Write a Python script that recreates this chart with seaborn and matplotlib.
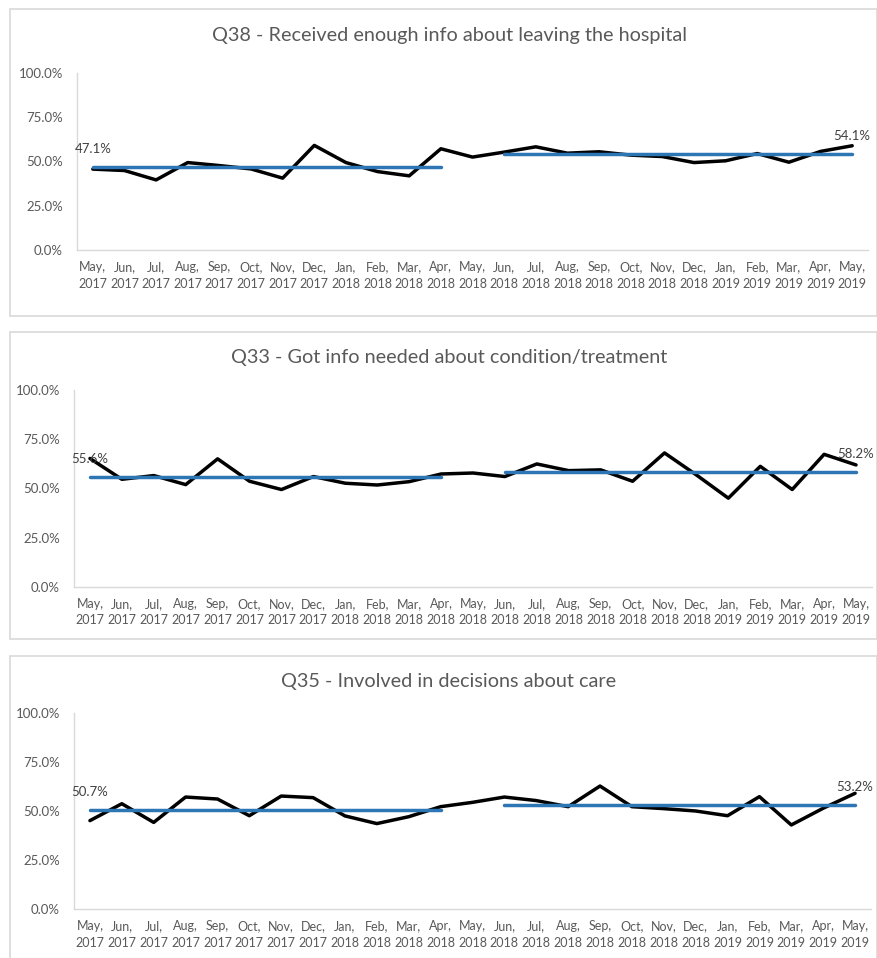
import pandas as pd
import matplotlib.pyplot as plt
import seaborn as sns
from matplotlib.patches import Rectangle
from matplotlib.ticker import FuncFormatter

sns.set_style('white')
plt.rcParams['font.family'] = ['Lato', 'DejaVu Sans']

# months on x-axis
months = ['May, 2017', 'Jun, 2017', 'Jul, 2017', 'Aug, 2017', 'Sep, 2017', 'Oct, 2017',
          'Nov, 2017', 'Dec, 2017', 'Jan, 2018', 'Feb, 2018', 'Mar, 2018', 'Apr, 2018',
          'May, 2018', 'Jun, 2018', 'Jul, 2018', 'Aug, 2018', 'Sep, 2018', 'Oct, 2018',
          'Nov, 2018', 'Dec, 2018', 'Jan, 2019', 'Feb, 2019', 'Mar, 2019', 'Apr, 2019',
          'May, 2019']

# monthly scores (%)
q38 = [45.7, 44.9, 39.6, 49.4, 47.7, 45.8, 40.6, 59.1, 49.4, 44.3, 41.9, 57.2,
       52.5, 55.3, 58.3, 54.7, 55.5, 53.6, 52.8, 49.4, 50.4, 54.5, 49.6, 55.7, 58.9]
q33 = [65.2, 54.6, 56.5, 51.9, 65.0, 53.6, 49.4, 56.0, 52.6, 51.7, 53.4, 57.3,
       57.8, 56.0, 62.4, 59.0, 59.4, 53.6, 68.0, 56.8, 45.0, 61.2, 49.4, 67.3, 61.9]
q35 = [45.1, 53.7, 44.2, 57.1, 56.1, 47.6, 57.6, 56.8, 47.5, 43.6, 47.1, 52.2,
       54.4, 57.1, 55.3, 52.2, 62.7, 52.2, 51.2, 50.0, 47.6, 57.3, 42.9, 51.4, 59.0]

# mean lines: (first month, last month, value)
q38_means = [('May, 2017', 'Apr, 2018', 47.1), ('Jun, 2018', 'May, 2019', 54.1)]
q33_means = [('May, 2017', 'Apr, 2018', 55.6), ('Jun, 2018', 'May, 2019', 58.2)]
q35_means = [('May, 2017', 'Apr, 2018', 50.7), ('Jun, 2018', 'May, 2019', 53.2)]

titles = ['Q38 - Received enough info about leaving the hospital',
          'Q33 - Got info needed about condition/treatment',
          'Q35 - Involved in decisions about care']

panels = [(q38, q38_means), (q33, q33_means), (q35, q35_means)]

fig = plt.figure(figsize=(8.77, 9.58), dpi=100)
W, H = 877, 958

# axes boxes in pixels: left, right, y of 0%, y of 100%
axes_px = [(77, 868, 250, 73), (74, 872, 586.7, 390), (74, 871, 909.3, 712.7)]
frames_px = [(10, 9, 877, 316), (10, 332, 877, 639), (10, 656, 877, 975)]
title_y = [35, 357, 682]

grey = '#595959'
for i, ((vals, means), title) in enumerate(zip(panels, titles)):
    fx0, fy0, fx1, fy1 = frames_px[i]
    fig.patches.append(Rectangle((fx0 / W, 1 - fy1 / H), (fx1 - fx0) / W, (fy1 - fy0) / H,
                                 transform=fig.transFigure, fill=False,
                                 edgecolor='#D9D9D9', linewidth=1.2))
    l, r, y0, y1 = axes_px[i]
    ax = fig.add_axes([l / W, 1 - y0 / H, (r - l) / W, (y0 - y1) / H])
    ax.set_facecolor('none')

    df = pd.DataFrame({'month': months, 'score': vals})
    df['x'] = range(len(months))
    sns.lineplot(data=df, x='x', y='score', color='black', linewidth=2.5, ax=ax)

    for start, end, m in means:
        i0, i1 = months.index(start), months.index(end)
        seg = pd.DataFrame({'x': [i0, i1], 'score': [m, m]})
        sns.lineplot(data=seg, x='x', y='score', color='#2E75B6', linewidth=2.5, ax=ax)
    # labels at start of first mean and end of last mean
    ax.annotate(f'{means[0][2]:.1f}%', (months.index(means[0][0]), means[0][2]),
                xytext=(0, 13), textcoords='offset points', ha='center', va='center',
                fontsize=9.5, color='#404040')
    ax.annotate(f'{means[-1][2]:.1f}%', (months.index(means[-1][1]), means[-1][2]),
                xytext=(0, 13), textcoords='offset points', ha='center', va='center',
                fontsize=9.5, color='#404040')

    ax.set_xlim(-0.5, len(months) - 0.5)
    ax.set_ylim(0, 100)
    ax.set_xticks(range(len(months)))
    ax.set_xticklabels([m.replace(' ', '\n') for m in months], fontsize=9, color=grey,
                       linespacing=1.45)
    ax.set_yticks([0, 25, 50, 75, 100])
    ax.yaxis.set_major_formatter(FuncFormatter(lambda v, p: f'{v:.1f}%'))
    ax.tick_params(axis='y', labelsize=9.5, labelcolor=grey, length=0, pad=10)
    ax.tick_params(axis='x', length=0, pad=8)
    ax.set_xlabel('')
    ax.set_ylabel('')
    for side in ['top', 'right']:
        ax.spines[side].set_visible(False)
    for side in ['left', 'bottom']:
        ax.spines[side].set_color('#D9D9D9')
        ax.spines[side].set_linewidth(1)
    ax.grid(False)

    fig.text(449 / W, 1 - title_y[i] / H, title, ha='center', va='center',
             fontsize=14.3, color=grey)

fig.savefig('out.png', dpi=100)
